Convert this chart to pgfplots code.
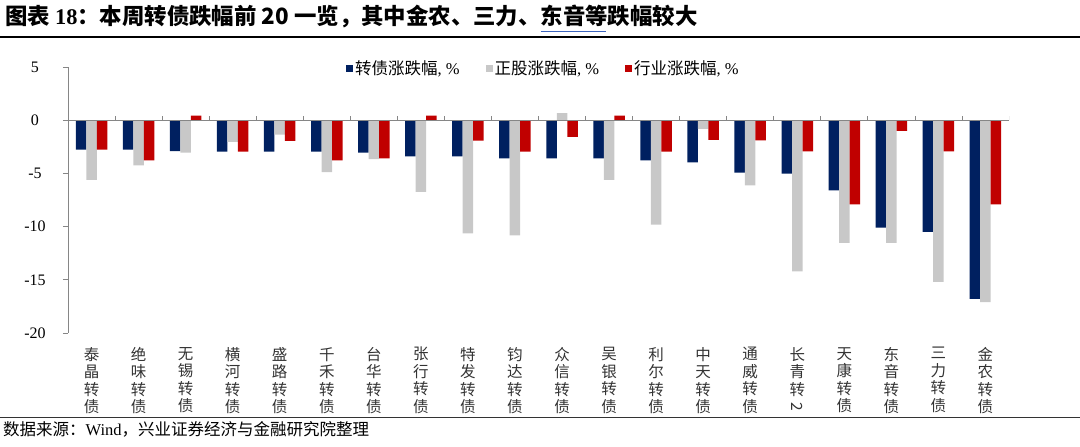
\documentclass[border=0pt]{standalone}
\usepackage{fontspec}
\usepackage{graphicx}
\usepackage{pgfplots}
\pgfplotsset{compat=1.18}
\setmainfont{Liberation Serif}
\newfontfamily\cjk{Noto Sans CJK SC}

\definecolor{bblue}{RGB}{0,32,96}
\definecolor{bgray}{RGB}{200,200,200}
\definecolor{bred}{RGB}{192,0,0}
\definecolor{axgray}{RGB}{134,134,134}
\definecolor{linkblue}{RGB}{60,100,190}

\pgfplotsset{
    sq/.style={legend image code/.code={\fill[##1] (0pt,-3.5pt) rectangle (7pt,3.5pt);}}
}

\begin{document}
\begin{tikzpicture}
\useasboundingbox (0,0) rectangle (1080pt,447pt);

% title and rules
\node[anchor=base west, inner sep=0pt, font=\fontsize{22.4}{24}\selectfont] at (5pt,422pt)
    {{\cjk\bfseries 图表 }{\bfseries 18}{\cjk\bfseries ：本周转债跌幅前 20 一览，其中金农、三力、\rlap{\textcolor{linkblue}{\rule[-0.3em]{2.9em}{0.8pt}}}东音等跌幅较大}};
\draw[black, line width=1.6pt] (0pt,410pt) -- (1080pt,410pt);
\draw[black!80, line width=1.2pt] (0pt,29.5pt) -- (1080pt,29.5pt);
\node[anchor=base west, inner sep=0pt, font=\fontsize{16.5}{18}\selectfont] at (3pt,11pt)
    {{\cjk 数据来源：}Wind{\cjk ，兴业证券经济与金融研究院整理}};

\begin{axis}[
    at={(68pt,114pt)}, anchor=south west,
    scale only axis, width=941pt, height=266pt,
    xmin=-0.5, xmax=19.5, ymin=-20, ymax=5,
    ybar=0pt, bar width=10.5pt,
    axis lines*=left,
    x axis line style={draw=none},
    y axis line style={draw=axgray, line width=0.8pt},
    ytick={-20,-15,-10,-5,0,5},
    tick align=outside,
    major tick length=5pt,
    y tick style={draw=axgray, line width=0.8pt},
    x tick style={draw=none},
    /pgf/number format/assume math mode=true,
    yticklabel style={font=\fontsize{16}{16}\selectfont, anchor=center, xshift=-28pt},
    xtick={0,...,19},
    xticklabels={
        {泰\\晶\\转\\债},{绝\\味\\转\\债},{无\\锡\\转\\债},{横\\河\\转\\债},{盛\\路\\转\\债},
        {千\\禾\\转\\债},{台\\华\\转\\债},{张\\行\\转\\债},{特\\发\\转\\债},{钧\\达\\转\\债},
        {众\\信\\转\\债},{吴\\银\\转\\债},{利\\尔\\转\\债},{中\\天\\转\\债},{通\\威\\转\\债},
        {长\\青\\转\\\rotatebox[origin=c]{-90}{2}},{天\\康\\转\\债},{东\\音\\转\\债},{三\\力\\转\\债},{金\\农\\转\\债}},
    xticklabel style={font=\cjk\fontsize{15.5}{17.5}\selectfont, align=center, anchor=north, inner sep=0pt, yshift=-9pt, text=black!80},
    legend columns=3,
    legend style={draw=none, fill=none, inner sep=0pt, anchor=west, at={(0.2954,0.995)},
        font=\fontsize{16.5}{16.5}\selectfont, nodes={inner xsep=2pt, inner ysep=1pt},
        /tikz/every even column/.append style={column sep=24pt}},
    legend cell align=left,
]
\addplot[fill=bblue, draw=none, sq] coordinates {
    (0,-2.77) (1,-2.77) (2,-2.90) (3,-2.96) (4,-2.96) (5,-2.96) (6,-3.05) (7,-3.40) (8,-3.40) (9,-3.58)
    (10,-3.58) (11,-3.58) (12,-3.77) (13,-3.96) (14,-4.93) (15,-5.03) (16,-6.60) (17,-10.10) (18,-10.50) (19,-16.80)};
\addlegendentry{{\cjk 转债涨跌幅}, \%}
\addplot[fill=bgray, draw=none, sq] coordinates {
    (0,-5.60) (1,-4.25) (2,-3.05) (3,-2.04) (4,-1.35) (5,-4.87) (6,-3.65) (7,-6.73) (8,-10.63) (9,-10.82)
    (10,0.66) (11,-5.60) (12,-9.81) (13,-0.82) (14,-6.13) (15,-14.20) (16,-11.54) (17,-11.54) (18,-15.20) (19,-17.10)};
\addlegendentry{{\cjk 正股涨跌幅}, \%}
\addplot[fill=bred, draw=none, sq] coordinates {
    (0,-2.77) (1,-3.77) (2,0.44) (3,-2.96) (4,-1.95) (5,-3.77) (6,-3.58) (7,0.44) (8,-1.92) (9,-2.96)
    (10,-1.57) (11,0.44) (12,-2.96) (13,-1.86) (14,-1.90) (15,-2.92) (16,-7.90) (17,-1.00) (18,-2.92) (19,-7.90)};
\addlegendentry{{\cjk 行业涨跌幅}, \%}

\draw[axgray, line width=0.8pt] (axis cs:-0.5,0) -- (axis cs:19.5,0);
\pgfplotsinvokeforeach{-0.5,0.5,...,19.5}{
    \draw[axgray, line width=0.8pt] (axis cs:#1,0) -- ++(0pt,4pt);
}
\end{axis}
\end{tikzpicture}
\end{document}
